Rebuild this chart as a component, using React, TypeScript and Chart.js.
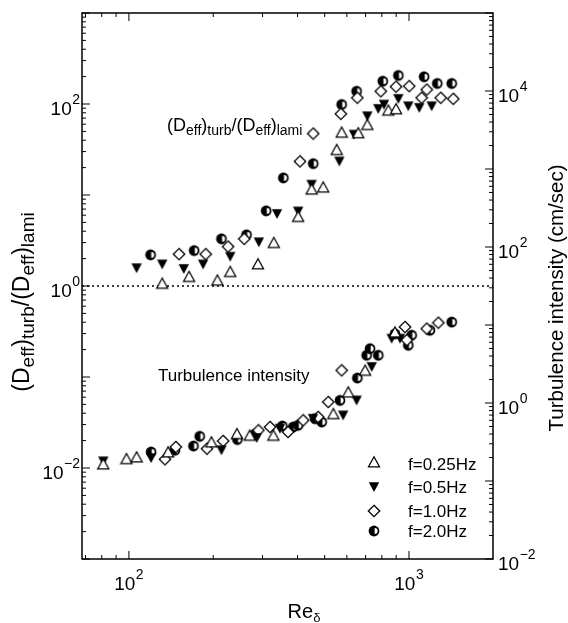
import { useEffect, useRef } from "react";
import { Chart, registerables } from "chart.js";
Chart.register(...registerables);

const W = 568;
const H = 623;
const FONT = '"Liberation Sans", Arial, Helvetica, sans-serif';

// ---- Upper group: (D_eff)_turb/(D_eff)_lami  (left axis) ----
const ratioRe025 = [131.5, 164, 207, 230, 289, 329, 402, 449, 494, 552, 575, 659, 710, 844, 899];
const ratio025 = [1.07, 1.27, 1.16, 1.44, 1.75, 3.0, 5.8, 11.6, 12.2, 31.5, 48.9, 48.2, 59.4, 85.5, 88.5];

const ratioRe05 = [106.5, 131.5, 157, 184, 230, 291, 338, 402, 449, 564, 636, 710, 777, 814, 916, 994, 1088, 1205];
const ratio05 = [1.57, 1.73, 1.54, 1.73, 2.1, 3.03, 6.2, 6.6, 13.0, 23.4, 46.1, 73.4, 88.5, 98.7, 114, 94.6, 90.8, 94.6];

const ratioRe10 = [151, 188, 226, 258, 408, 455, 571, 654, 793, 899, 1002, 1110, 1157, 1298, 1439];
const ratio10 = [2.24, 2.24, 2.71, 3.3, 23.4, 47.3, 78, 117, 138, 155, 157, 117, 144, 117, 114];

const ratioRe20 = [119.5, 171, 214, 263, 309, 356, 455, 575, 650, 806, 916, 1132, 1262, 1421];
const ratio20 = [2.2, 2.45, 3.3, 3.65, 6.7, 15.4, 22.1, 98.7, 138, 178, 206, 199, 168, 168];

// ---- Lower group: Turbulence intensity (cm/sec)  (right axis) ----
const turbRe025 = [81, 98, 106.5, 138, 197, 243, 270, 328, 537, 607, 697, 891];
const turb025 = [0.165, 0.193, 0.203, 0.235, 0.316, 0.404, 0.385, 0.385, 0.729, 1.38, 2.62, 8.1];

const turbRe05 = [81, 120, 214, 286, 346, 454, 582, 650, 736, 867, 929];
const turb05 = [0.179, 0.197, 0.248, 0.356, 0.469, 0.629, 0.695, 1.08, 2.9, 6.7, 6.7];

const turbRe10 = [134.5, 147, 190, 217, 290, 319, 370, 419, 474, 515, 575, 968, 982, 1157, 1273];
const turb10 = [0.19, 0.273, 0.26, 0.326, 0.447, 0.492, 0.425, 0.6, 0.662, 1.03, 2.62, 9.43, 6.4, 8.97, 10.7];

const turbRe20 = [120, 146, 170, 179, 244, 282, 353, 386, 402, 462, 488, 567, 654, 706, 726, 777, 891, 994, 1022, 1188, 1421];
const turb20 = [0.235, 0.248, 0.281, 0.374, 0.34, 0.4, 0.507, 0.492, 0.518, 0.629, 0.57, 1.08, 2.09, 4.09, 4.97, 4.09, 7.7, 5.5, 7.4, 8.55, 10.9];

const legendLabels = ["f=0.25Hz", "f=0.5Hz", "f=1.0Hz", "f=2.0Hz"];
const markerKinds = ["triUp", "triDown", "diamond", "half"];

// axis ranges and labelled ticks
const xRange = [68, 1995];
const leftRange = [1e-3, 1e3];
const rightRange = [1e-2, 1e5];
const xTickLabels = [100, 1000];
const leftTickLabels = [1e-2, 1, 1e2];
const rightTickLabels = [1e-2, 1, 1e2, 1e4];

function makeMarker(kind: string): HTMLCanvasElement {
  const c = document.createElement("canvas");
  c.width = 14;
  c.height = 14;
  const g = c.getContext("2d")!;
  g.lineWidth = 1.3;
  g.strokeStyle = "#000";
  g.fillStyle = "#fff";
  if (kind === "triUp") {
    g.beginPath();
    g.moveTo(7, 1.8);
    g.lineTo(12.5, 11.8);
    g.lineTo(1.5, 11.8);
    g.closePath();
    g.fill();
    g.stroke();
  } else if (kind === "triDown") {
    g.fillStyle = "#000";
    g.beginPath();
    g.moveTo(1.8, 2.2);
    g.lineTo(12.2, 2.2);
    g.lineTo(7, 12);
    g.closePath();
    g.fill();
  } else if (kind === "diamond") {
    g.beginPath();
    g.moveTo(7, 1.3);
    g.lineTo(12.7, 7);
    g.lineTo(7, 12.7);
    g.lineTo(1.3, 7);
    g.closePath();
    g.fill();
    g.stroke();
  } else {
    g.fillStyle = "#000";
    g.beginPath();
    g.arc(7, 7, 5.4, 0, Math.PI * 2);
    g.fill();
    g.fillStyle = "#fff";
    g.beginPath();
    g.arc(7.6, 7, 3, -Math.PI / 2, Math.PI / 2);
    g.closePath();
    g.fill();
  }
  return c;
}

type Part = [string, boolean];

function richWidth(ctx: CanvasRenderingContext2D, parts: Part[], main: number, sub: number) {
  let w = 0;
  for (const [t, s] of parts) {
    ctx.font = `${s ? sub : main}px ${FONT}`;
    w += ctx.measureText(t).width;
  }
  return w;
}

function drawRich(ctx: CanvasRenderingContext2D, parts: Part[], x: number, y: number, main: number, sub: number, subDy: number) {
  let cx = x;
  ctx.textAlign = "left";
  ctx.textBaseline = "alphabetic";
  for (const [t, s] of parts) {
    ctx.font = `${s ? sub : main}px ${FONT}`;
    ctx.fillText(t, cx, y + (s ? subDy : 0));
    cx += ctx.measureText(t).width;
  }
}

function drawPow(ctx: CanvasRenderingContext2D, v: number, x: number, y: number, align: "left" | "right" | "center") {
  const e = Math.round(Math.log10(v));
  const es = e < 0 ? "\u2212" + Math.abs(e) : String(e);
  ctx.font = `19px ${FONT}`;
  const bw = ctx.measureText("10").width;
  ctx.font = `14px ${FONT}`;
  const ew = ctx.measureText(es).width;
  const tw = bw + ew + 0.5;
  let sx = x;
  if (align === "right") sx = x - tw;
  else if (align === "center") sx = x - tw / 2;
  ctx.textAlign = "left";
  ctx.textBaseline = "alphabetic";
  ctx.font = `19px ${FONT}`;
  ctx.fillText("10", sx, y);
  ctx.font = `14px ${FONT}`;
  ctx.fillText(es, sx + bw + 0.5, y - 11);
}

function logTicks(min: number, max: number) {
  const majors: number[] = [];
  const minors: number[] = [];
  const lo = Math.floor(Math.log10(min));
  const hi = Math.ceil(Math.log10(max));
  for (let d = lo; d <= hi; d++) {
    const b = Math.pow(10, d);
    if (b >= min * 0.999 && b <= max * 1.001) majors.push(b);
    for (let k = 2; k <= 9; k++) {
      const v = k * b;
      if (v > min && v < max) minors.push(v);
    }
  }
  return { majors, minors };
}

export default function App() {
  const ref = useRef<HTMLCanvasElement | null>(null);
  useEffect(() => {
    const canvas = ref.current;
    if (!canvas) return;
    const markers = markerKinds.map(makeMarker);
    const mk = (xs: number[], ys: number[], i: number, axis: string, label: string) => ({
      label,
      data: xs.map((x, j) => ({ x, y: ys[j] })),
      pointStyle: markers[i] as any,
      pointRadius: 7,
      showLine: false,
      yAxisID: axis,
    });
    const decor = {
      id: "decor",
      beforeDatasetsDraw(chart: any) {
        const ctx = chart.ctx as CanvasRenderingContext2D;
        const a = chart.chartArea;
        const y1 = chart.scales.y.getPixelForValue(1);
        ctx.save();
        ctx.strokeStyle = "#000";
        ctx.lineWidth = 1.4;
        ctx.setLineDash([2, 3]);
        ctx.beginPath();
        ctx.moveTo(a.left, y1);
        ctx.lineTo(a.right, y1);
        ctx.stroke();
        ctx.restore();
      },
      afterDraw(chart: any) {
        const ctx = chart.ctx as CanvasRenderingContext2D;
        const a = chart.chartArea;
        const sx = chart.scales.x;
        const sy = chart.scales.y;
        const sy2 = chart.scales.y2;
        ctx.save();
        ctx.strokeStyle = "#000";
        ctx.fillStyle = "#000";
        ctx.lineWidth = 1.5;
        ctx.strokeRect(a.left, a.top, a.right - a.left, a.bottom - a.top);
        ctx.lineWidth = 1;
        const MAJ = 8;
        const MIN = 4;
        const xt = logTicks(xRange[0], xRange[1]);
        const xtick = (v: number, len: number) => {
          const p = sx.getPixelForValue(v);
          ctx.beginPath();
          ctx.moveTo(p, a.bottom);
          ctx.lineTo(p, a.bottom - len);
          ctx.moveTo(p, a.top);
          ctx.lineTo(p, a.top + len);
          ctx.stroke();
        };
        xt.majors.forEach((v) => xtick(v, MAJ));
        xt.minors.forEach((v) => xtick(v, MIN));
        const lt = logTicks(leftRange[0], leftRange[1]);
        const ltick = (v: number, len: number) => {
          const p = sy.getPixelForValue(v);
          ctx.beginPath();
          ctx.moveTo(a.left, p);
          ctx.lineTo(a.left + len, p);
          ctx.stroke();
        };
        lt.majors.forEach((v) => ltick(v, MAJ));
        lt.minors.forEach((v) => ltick(v, MIN));
        const rt = logTicks(rightRange[0], rightRange[1]);
        const rtick = (v: number, len: number) => {
          const p = sy2.getPixelForValue(v);
          ctx.beginPath();
          ctx.moveTo(a.right, p);
          ctx.lineTo(a.right - len, p);
          ctx.stroke();
        };
        rt.majors.forEach((v) => rtick(v, MAJ));
        rt.minors.forEach((v) => rtick(v, MIN));
        xTickLabels.forEach((v) => drawPow(ctx, v, sx.getPixelForValue(v), a.bottom + 31, "center"));
        leftTickLabels.forEach((v) => drawPow(ctx, v, a.left - 2, sy.getPixelForValue(v) + 11, "right"));
        rightTickLabels.forEach((v) => drawPow(ctx, v, a.right + 5, sy2.getPixelForValue(v) + 11, "left"));
        const xt2: Part[] = [["Re", false], ["\u03b4", true]];
        const xw = richWidth(ctx, xt2, 20, 13);
        drawRich(ctx, xt2, 304 - xw / 2, 618, 20, 13, 4);
        const lp: Part[] = [
          ["(D", false], ["eff", true], [")", false], ["turb", true], ["/(D", false], ["eff", true], [")", false], ["lami", true],
        ];
        ctx.save();
        ctx.translate(29, 302);
        ctx.rotate(-Math.PI / 2);
        const lw = richWidth(ctx, lp, 23, 19);
        drawRich(ctx, lp, -lw / 2, 0, 23, 19, 5);
        ctx.restore();
        ctx.save();
        ctx.translate(563, 298);
        ctx.rotate(-Math.PI / 2);
        ctx.font = `20.5px ${FONT}`;
        ctx.textAlign = "center";
        ctx.textBaseline = "alphabetic";
        ctx.fillText("Turbulence intensity (cm/sec)", 0, 0);
        ctx.restore();
        drawRich(ctx, lp, 167, 131, 18, 14, 4);
        ctx.font = `17px ${FONT}`;
        ctx.textAlign = "left";
        ctx.fillText("Turbulence intensity", 158, 381);
        const ly = [462, 487, 511, 531];
        const lb = [470, 493, 517, 537];
        legendLabels.forEach((t, i) => {
          const m = markers[i];
          ctx.drawImage(m, 374 - m.width / 2, ly[i] - m.height / 2);
          ctx.font = `17px ${FONT}`;
          ctx.textAlign = "left";
          ctx.textBaseline = "alphabetic";
          ctx.fillText(t, 408, lb[i]);
        });
        ctx.restore();
      },
    };
    const chart = new Chart(canvas, {
      type: "scatter",
      data: {
        datasets: [
          mk(ratioRe025, ratio025, 0, "y", legendLabels[0]),
          mk(ratioRe05, ratio05, 1, "y", legendLabels[1]),
          mk(ratioRe10, ratio10, 2, "y", legendLabels[2]),
          mk(ratioRe20, ratio20, 3, "y", legendLabels[3]),
          mk(turbRe025, turb025, 0, "y2", legendLabels[0]),
          mk(turbRe05, turb05, 1, "y2", legendLabels[1]),
          mk(turbRe10, turb10, 2, "y2", legendLabels[2]),
          mk(turbRe20, turb20, 3, "y2", legendLabels[3]),
        ],
      },
      options: {
        responsive: false,
        animation: false,
        devicePixelRatio: 1,
        layout: { padding: { left: 82, top: 13, right: W - 493, bottom: H - 559 } },
        plugins: { legend: { display: false }, tooltip: { enabled: false }, title: { display: false } },
        scales: {
          x: { type: "logarithmic", min: xRange[0], max: xRange[1], display: false },
          y: { type: "logarithmic", min: leftRange[0], max: leftRange[1], display: false },
          y2: { type: "logarithmic", position: "right", min: rightRange[0], max: rightRange[1], display: false },
        },
      },
      plugins: [decor],
    } as any);
    return () => chart.destroy();
  }, []);
  return (
    <div style={{ position: "fixed", left: 0, top: 0, width: W, height: H, background: "#fff" }}>
      <canvas ref={ref} width={W} height={H} style={{ width: W, height: H, display: "block" }} />
    </div>
  );
}
